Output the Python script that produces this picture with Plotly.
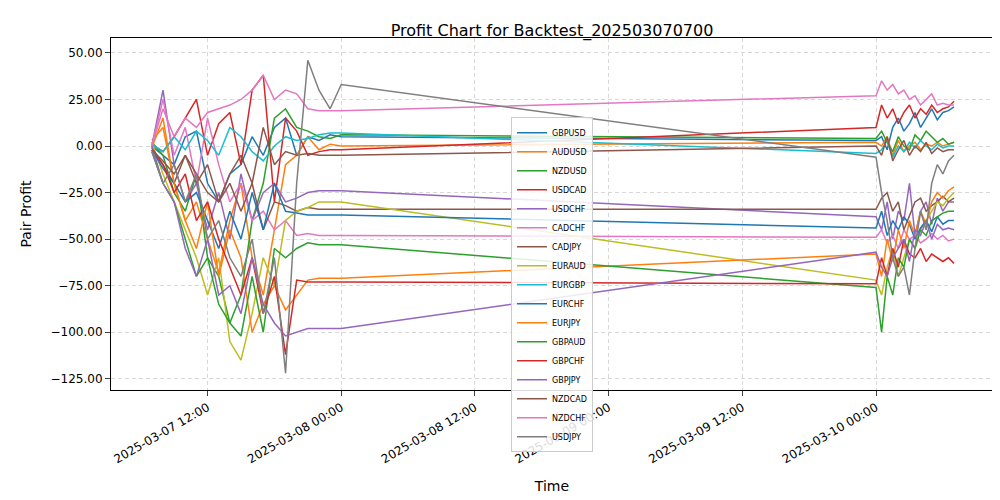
import plotly.graph_objects as go
import pandas as pd

# timestamps: hourly on Friday, half-hourly on Monday morning
times_fri = list(pd.date_range("2025-03-07 07:00", "2025-03-08 00:00", freq="1h"))
times_mon = list(pd.date_range("2025-03-10 00:00", "2025-03-10 07:00", freq="30min"))
times = times_fri + times_mon

pairs = ["GBPUSD", "AUDUSD", "NZDUSD", "USDCAD", "USDCHF", "CADCHF", "CADJPY", "EURAUD",
         "EURGBP", "EURCHF", "EURJPY", "GBPAUD", "GBPCHF", "GBPJPY", "NZDCAD", "NZDCHF", "USDJPY"]

GBPUSD = [0, -5, -10, 5, 8, -20, -30, -15, -10, 5, -5, 10, 15, -5, 5, 3, 6, 5,
          3, 5, -2, 10, 15, 8, 12, 18, 10, 15, 20, 14, 18, 19, 21]
AUDUSD = [3, 10, -20, -40, -30, -50, -68, -40, -20, -60, -80, -45, -10, -5, 5, -2, 1, 0,
          2, 0, 5, -5, 3, -3, 0, 2, -2, 1, 0, 2, 0, 1, 2]
NZDUSD = [2, -5, -25, -35, -15, -60, -70, -95, -80, -40, -20, 15, 20, 10, 8, 5, 4, 6,
          4, 8, 2, -3, 5, 0, -2, 6, 3, 8, 5, 2, 4, 1, 2]
USDCAD = [1, -3, 5, 15, 25, -5, 12, 18, -10, 30, 38, -30, 15, 8, -5, -3, -2, -2,
          10, 22, 15, 20, 12, 18, 22, 15, 20, 17, 22, 18, 20, 21, 24]
USDCHF = [0, 30, -10, -30, -20, -45, -25, -50, -15, -40, -25, -20, -30, -28, -25, -24, -24, -24,
          -38, -45, -30, -50, -35, -40, -20, -48, -35, -30, -42, -28, -35, -30, -30]
CADCHF = [0, 25, -5, 10, -20, 15, -10, -30, -20, -40, -35, -45, -40, -48, -47, -48, -48, -48,
          -49, -45, -52, -48, -55, -45, -50, -48, -52, -50, -47, -50, -48, -51, -50]
CADJPY = [-2, -10, -20, -5, -15, -25, -30, -20, -35, -20, -45, -30, -32, -35, -33, -34, -34, -34,
          -34, -28, -25, -35, -30, -45, -38, -30, -28, -35, -32, -30, -27, -30, -28]
EURAUD = [2, -15, -30, -45, -60, -80, -60, -105, -115, -90, -60, -75, -40, -35, -33, -30, -30, -30,
          -72, -80, -65, -55, -70, -60, -50, -55, -45, -40, -35, -30, -32, -28, -25]
EURGBP = [1, -3, 5, -2, 8, 3, -5, 10, 5, -3, -8, 0, 5, 3, 4, 6, 7, 7,
          -4, -2, 3, -6, 0, -3, 2, -1, 3, 0, -2, 1, -1, 0, 0]
EURCHF = [-2, -12, -20, -30, -25, -40, -55, -35, -50, -25, -45, -20, -35, -36, -37, -37, -37, -37,
          -44, -35, -48, -40, -45, -38, -42, -50, -44, -40, -46, -38, -42, -40, -40]
EURJPY = [-1, 15, -20, -40, -55, -30, -70, -45, -60, -100, -85, -75, -88, -80, -72, -71, -71, -71,
          -58, -70, -50, -62, -45, -55, -40, -48, -35, -42, -30, -25, -28, -24, -22]
GBPAUD = [-3, -20, -30, -50, -70, -60, -85, -95, -102, -70, -100, -55, -60, -55, -52, -53, -53, -53,
          -76, -100, -70, -80, -60, -65, -50, -55, -45, -48, -40, -38, -36, -35, -35]
GBPCHF = [-1, -10, -25, -15, -40, -30, -50, -65, -80, -60, -90, -70, -112, -72, -73, -73, -73, -73,
          -74, -60, -70, -55, -65, -50, -58, -60, -55, -62, -58, -60, -62, -60, -63]
GBPJPY = [0, -20, -30, -55, -70, -50, -80, -75, -90, -60, -85, -95, -102, -100, -98, -98, -98, -98,
          -57, -65, -70, -60, -55, -50, -62, -45, -48, -40, -50, -42, -45, -44, -45]
NZDCAD = [-2, -8, -15, -5, -20, -10, -30, -15, -5, -20, 10, -10, -3, -5, -4, -5, -5, -5,
          0, -5, 5, -8, -2, 3, -5, 0, -3, 2, -4, -1, -3, -2, -2]
NZDCHF = [0, 20, 5, 15, 10, 18, 20, 22, 25, 30, 38, 25, 30, 28, 20, 19, 19, 19,
          27, 35, 30, 33, 28, 30, 25, 27, 22, 25, 28, 22, 23, 22, 22]
USDJPY = [-3, -20, -10, -30, -15, -50, -40, -60, -70, -50, -90, -60, -122, -20, 46, 30, 20, 33,
          -6, -25, -40, -60, -70, -65, -80, -55, -35, -45, -20, -10, -15, -8, -5]

series = [GBPUSD, AUDUSD, NZDUSD, USDCAD, USDCHF, CADCHF, CADJPY, EURAUD,
          EURGBP, EURCHF, EURJPY, GBPAUD, GBPCHF, GBPJPY, NZDCAD, NZDCHF, USDJPY]

# colour of each pair as shown in the legend
pair_colors = ["#1f77b4", "#ff7f0e", "#2ca02c", "#d62728", "#9467bd", "#e377c2", "#8c564b",
               "#bcbd22", "#17becf", "#1f77b4", "#ff7f0e", "#2ca02c", "#d62728", "#9467bd",
               "#8c564b", "#e377c2", "#7f7f7f"]

fig = go.Figure()
for name, vals, c in zip(pairs, series, pair_colors):
    fig.add_trace(go.Scatter(x=times, y=vals, mode="lines", name=name,
                             line=dict(color=c, width=1.5)))

fig.update_layout(
    width=1000, height=500,
    title=dict(text="Profit Chart for Backtest_202503070700", x=0.544, xanchor="center",
               y=0.955, yanchor="middle", font=dict(size=16, color="black")),
    font=dict(family="DejaVu Sans", size=12, color="black"),
    plot_bgcolor="white", paper_bgcolor="white",
    margin=dict(l=103, r=15, t=30, b=118),
    legend=dict(x=0.5, y=0.775, xanchor="center", yanchor="top", bgcolor="rgba(255,255,255,0.85)",
                bordercolor="#cccccc", borderwidth=1, font=dict(size=8), tracegroupgap=0,
                itemwidth=30),
)
fig.update_xaxes(title_text="Time", range=["2025-03-07 03:20", "2025-03-10 10:30"],
                 tickformat="%Y-%m-%d %H:%M", dtick=12 * 3600 * 1000,
                 tick0="2025-03-07 12:00", tickangle=-30, automargin=False,
                 showgrid=True, gridcolor="#d8d8d8", griddash="4px,3px", gridwidth=0.8,
                 showline=True, linecolor="black", mirror=True, ticks="outside", zeroline=False)
fig.update_yaxes(title_text="Pair Profit", range=[-131, 58], tickformat=".2f", dtick=25,
                 automargin=False,
                 showgrid=True, gridcolor="#d8d8d8", griddash="4px,3px", gridwidth=0.8,
                 showline=True, linecolor="black", mirror=True, ticks="outside", zeroline=False)

fig.write_html("out.html")
